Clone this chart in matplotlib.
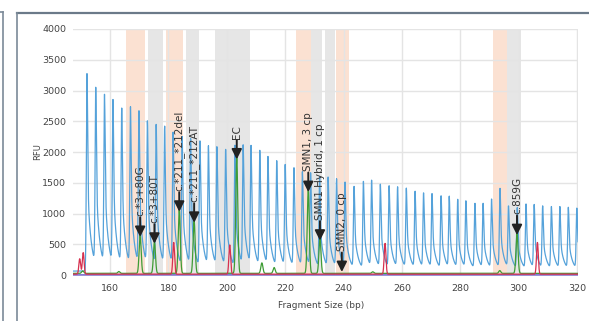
import numpy as np
import matplotlib.pyplot as plt
from matplotlib.lines import Line2D

# blue (ladder-like) peaks: size in bp and height in RFU
blue_pos = [152.1, 155.1, 158.1, 161.0, 164.0, 167.0, 169.9, 172.8, 175.8, 178.7,
            181.6, 184.7, 187.6, 190.8, 193.7, 196.6, 199.6, 202.8, 205.6, 208.3,
            211.3, 214.1, 217.1, 220.0, 223.0, 225.9, 228.7, 231.8, 234.7, 237.6,
            240.5, 243.6, 246.8, 249.6, 252.6, 255.6, 258.5, 261.5, 264.5, 267.4,
            270.3, 273.4, 276.2, 279.1, 281.9, 285.0, 287.8, 290.7, 293.6, 296.5,
            299.5, 302.5, 305.3, 308.2, 311.2, 314.1, 317.0, 319.9]
blue_h = [3215, 2860, 2750, 2655, 2530, 2558, 2490, 2320, 2280, 2250,
          2150, 2100, 2055, 2040, 1940, 1930, 1895, 1978, 1955, 1930,
          1875, 1765, 1715, 1650, 1605, 1540, 1520, 1470, 1463, 1430,
          1380, 1320, 1409, 1406, 1350, 1328, 1305, 1290, 1240, 1214,
          1200, 1178, 1160, 1110, 1084, 1057, 1046, 1122, 1290, 1000,
          990, 1050, 1030, 1010, 1005, 1000, 990, 975]

green_pos = [150.6, 163.0, 170.3, 175.2, 183.7, 188.8, 203.4, 212.0, 216.2,
             227.9, 231.9, 250.0, 293.5, 299.4]
green_h = [40, 30, 620, 510, 1030, 850, 1880, 170, 95, 1350, 560, 25, 45, 650]

red_pos = [149.6, 150.8, 181.8, 201.0, 254.2, 306.4]
red_h = [250, 350, 515, 475, 500, 515]

# highlighted size bins
orange_bins = [(165.4, 171.9), (179.1, 184.9), (223.6, 228.8), (237.4, 241.9), (291.1, 295.9)]
gray_bins = [(173.0, 178.3), (186.0, 190.6), (196.1, 208.0), (228.8, 232.7), (233.6, 237.1), (295.9, 300.7)]

marker_labels = ["c.*3+80G", "c.*3+80T", "c.*211_*212del", "c.*211_*212AT", "EC",
                 "SMN1, 3 cp", "SMN1 Hybrid, 1 cp", "SMN2, 0 cp", "c.859G"]
marker_pos = [170.3, 175.2, 183.7, 188.8, 203.4, 227.9, 231.9, 239.4, 299.4]
marker_tip = [620, 510, 1030, 850, 1880, 1350, 560, 50, 650]

xt = np.linspace(147.3, 320.3, 6000)


def blue_peak(p, h, a=0.5, tau=1.2):
    # sharp rise, exponential decay towards the next peak
    d = xt - p
    core = np.exp(-0.5 * (d / 0.22) ** 2)
    right = (1 - a) * core + a * np.exp(-np.clip(d, 0, None) / tau)
    return h * np.where(d < 0, core, right)


def sharp_peak(p, h, s=0.35):
    return h * np.exp(-0.5 * ((xt - p) / s) ** 2)


blue = 65 + sum(blue_peak(p, h) for p, h in zip(blue_pos, blue_h))
green = 28 + sum(sharp_peak(p, h) for p, h in zip(green_pos, green_h))
red = 15 + sum(sharp_peak(p, h, 0.3) for p, h in zip(red_pos, red_h))

W, H = 589, 321
fig = plt.figure(figsize=(W / 100, H / 100), dpi=100)
ax = fig.add_axes([73 / W, 1 - 276 / H, (578 - 73) / W, (276 - 29) / H])

for a, b in orange_bins:
    ax.fill_between([a, b], 0, 4000, color="#fbe1d2", lw=0, zorder=1)
for a, b in gray_bins:
    ax.fill_between([a, b], 0, 4000, color="#e6e6e6", lw=0, zorder=1)

ax.plot(xt, blue, color="#55a2da", lw=0.9, zorder=3)
ax.plot(xt, np.zeros_like(xt) + 3, color="#6a5acd", lw=1.0, zorder=3)
ax.plot(xt, green, color="#3f9c35", lw=0.9, zorder=4)
ax.plot(xt, red, color="#d6304f", lw=0.9, zorder=5)

for lab, x, tip in zip(marker_labels, marker_pos, marker_tip):
    ax.annotate("", xy=(x, tip), xytext=(0, 14), textcoords="offset points",
                arrowprops=dict(arrowstyle="-|>,head_length=0.6,head_width=0.3",
                                color="#222222", lw=1.4, shrinkA=0, shrinkB=0,
                                mutation_scale=10), zorder=6)
    ax.annotate(lab, xy=(x, tip), xytext=(0, 15), textcoords="offset points",
                rotation=90, ha="center", va="bottom", fontsize=7.5,
                color="#333333", zorder=6)

ax.set_xlim(147.3, 320.3)
ax.set_ylim(-15, 4000)
ax.set_xticks(range(160, 321, 20))
ax.set_yticks(range(0, 4001, 500))
ax.grid(True, color="#e4e4e4", lw=1.0)
ax.tick_params(length=0, labelsize=6.8, colors="#444444")
ax.tick_params(axis="x", pad=6)
ax.tick_params(axis="y", pad=5)
for s in ax.spines.values():
    s.set_visible(False)

fig.text(38 / W, 1 - 152 / H, "RFU", rotation=90, ha="center", va="center",
         fontsize=6, color="#444444")
fig.text(321 / W, 1 - 306 / H, "Fragment Size (bp)", ha="center", va="center",
         fontsize=6.5, color="#444444")

# panel borders
fig.add_artist(Line2D([3 / W, 3 / W], [0, 1 - 12 / H], color="#7c8a98", lw=1.2))
fig.add_artist(Line2D([0, 3 / W], [1 - 12 / H, 1 - 12 / H], color="#7c8a98", lw=1.2))
fig.add_artist(Line2D([17 / W, 1], [1 - 13 / H, 1 - 13 / H], color="#6b7a89", lw=1.6))
fig.add_artist(Line2D([17 / W, 17 / W], [0, 1 - 13 / H], color="#7c8a98", lw=1.2))

fig.savefig("out.png", dpi=100)
